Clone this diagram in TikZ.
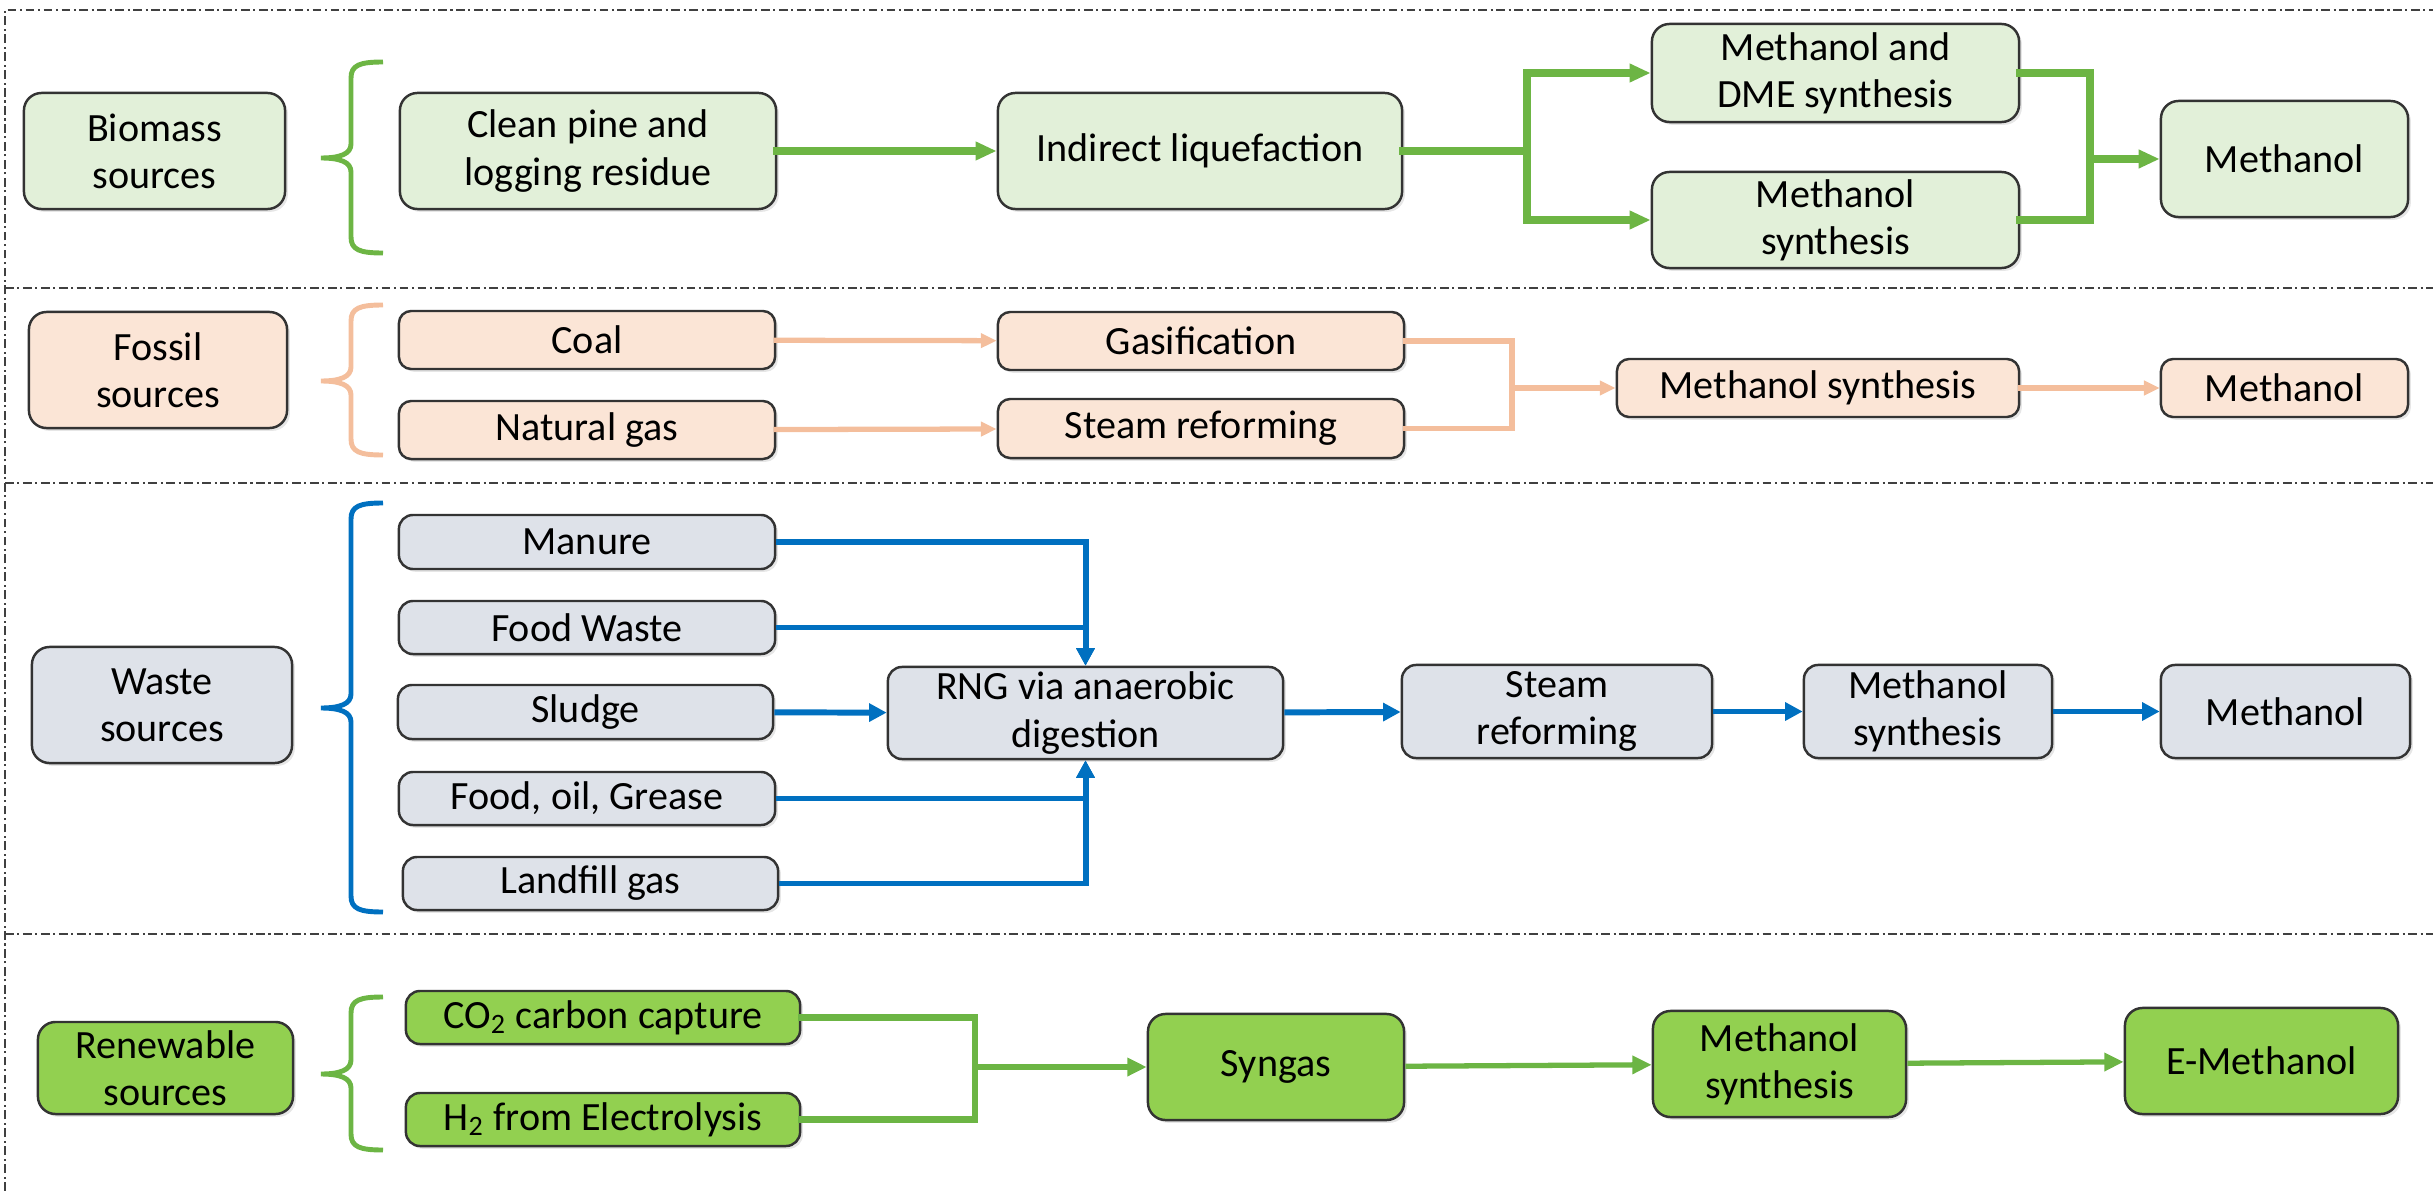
\documentclass[tikz,border=0pt]{standalone}
\usepackage{fontspec}
\setmainfont{Carlito}
\usetikzlibrary{arrows.meta,shadows}

\definecolor{biofill}{HTML}{E2F0D9}
\definecolor{bioline}{HTML}{6DB544}
\definecolor{fosfill}{HTML}{FBE5D6}
\definecolor{fosline}{HTML}{F4BE9C}
\definecolor{wasfill}{HTML}{DEE2E9}
\definecolor{wasline}{HTML}{0070C0}
\definecolor{renfill}{HTML}{92D050}
\definecolor{renline}{HTML}{6CB544}
\definecolor{framec}{HTML}{404040}

% bracket: colour, top y, tip y, bottom y
\newcommand{\srcbrace}[4]{%
  \draw[brc, draw=#1] (383,#2) .. controls (360,#2) and (351,{#2+3}) .. (351,{#2+16})
    -- (351,{#3-14}) .. controls (351,{#3-4}) and (340,#3) .. (321,#3)
    .. controls (340,#3) and (351,{#3+4}) .. (351,{#3+14})
    -- (351,{#4-16}) .. controls (351,{#4-3}) and (360,#4) .. (383,#4);}

\begin{document}
\begin{tikzpicture}[x=0.01cm, y=-0.01cm,
  box/.style={draw=black!80, line width=0.7pt, rounded corners=5pt, align=center,
    inner sep=1pt, font=\fontsize{11.4}{13.4}\selectfont,
    drop shadow={opacity=0.2, shadow xshift=0.8pt, shadow yshift=-0.8pt}},
  bio/.style={box, fill=biofill},
  fos/.style={box, fill=fosfill, rounded corners=3.5pt},
  was/.style={box, fill=wasfill, rounded corners=4pt},
  ren/.style={box, fill=renfill},
  biolin/.style={draw=bioline, line width=2.2pt, line cap=rect},
  bioarr/.style={biolin, -{Triangle[length=6pt, width=5pt]}},
  foslin/.style={draw=fosline, line width=1.5pt, line cap=rect},
  fosarr/.style={foslin, -{Triangle[length=4.5pt, width=4pt]}},
  wasarr/.style={draw=wasline, line width=1.7pt, -{Triangle[length=5pt, width=5pt]}},
  renlin/.style={draw=renline, line width=1.8pt, line cap=rect},
  renarr/.style={renlin, -{Triangle[length=5.5pt, width=5pt]}},
  renarr2/.style={draw=renline, line width=1.5pt, -{Triangle[length=5.5pt, width=5pt]}},
  brc/.style={line width=1.4pt},
  frame/.style={draw=framec, line width=0.5pt, dash pattern=on 2.5pt off 1pt on 0.6pt off 1pt}
]
\useasboundingbox (0,0) rectangle (2433,1191);

\draw[frame] (5,1191) -- (5,10) -- (2433,10);
\draw[frame] (5,288) -- (2433,288);
\draw[frame] (5,483) -- (2433,483);
\draw[frame] (5,934) -- (2433,934);

\node (bs)  [bio, minimum width=2.61cm, minimum height=1.16cm] at (154.5,151) {Biomass\\sources};
\node (cp)  [bio, minimum width=3.76cm, minimum height=1.16cm] at (588,151) {Clean pine and\\logging residue};
\node (il)  [bio, minimum width=4.04cm, minimum height=1.16cm] at (1200,151) {Indirect liquefaction};
\node (md)  [bio, minimum width=3.67cm, minimum height=0.98cm] at (1835.5,73) {Methanol and\\DME synthesis};
\node (ms1) [bio, minimum width=3.67cm, minimum height=0.96cm] at (1835.5,220) {Methanol\\synthesis};
\node (me1) [bio, minimum width=2.47cm, minimum height=1.16cm] at (2284.5,159) {Methanol};
\coordinate (j1) at (1527,151);
\coordinate (j2) at (2090,159);

\srcbrace{bioline}{62}{158}{253}
\draw[bioarr] (cp) -- (il);
\draw[biolin] (il) -- (j1);
\draw[bioarr] (j1) |- (md);
\draw[bioarr] (j1) |- (ms1);
\draw[biolin] (md) -| (j2);
\draw[biolin] (ms1) -| (j2);
\draw[bioarr] (j2) -- (me1);

\node (fs)  [fos, rounded corners=5pt, minimum width=2.58cm, minimum height=1.16cm] at (158,370) {Fossil\\sources};
\node (co)  [fos, minimum width=3.76cm, minimum height=0.58cm] at (587,340) {Coal};
\node (ng)  [fos, minimum width=3.76cm, minimum height=0.58cm] at (587,430) {Natural gas};
\node (ga)  [fos, minimum width=4.06cm, minimum height=0.58cm] at (1201,341) {Gasification};
\node (sr1) [fos, minimum width=4.06cm, minimum height=0.59cm] at (1201,428.5) {Steam reforming};
\node (ms2) [fos, minimum width=4.02cm, minimum height=0.58cm] at (1818,388) {Methanol synthesis};
\node (me2) [fos, minimum width=2.47cm, minimum height=0.58cm] at (2284.5,388) {Methanol};
\coordinate (j3) at (1512,388);

\srcbrace{fosline}{305}{381}{455}
\draw[fosarr] (co) -- (ga);
\draw[fosarr] (ng) -- (sr1);
\draw[foslin] (ga) -| (j3);
\draw[foslin] (sr1) -| (j3);
\draw[fosarr] (j3) -- (ms2);
\draw[fosarr] (ms2) -- (me2);

\node (ws)  [was, rounded corners=5pt, minimum width=2.60cm, minimum height=1.16cm] at (162,705) {Waste\\sources};
\node (mn)  [was, minimum width=3.76cm, minimum height=0.54cm] at (587,542) {Manure};
\node (fw)  [was, minimum width=3.76cm, minimum height=0.53cm] at (587,627.5) {Food Waste};
\node (sl)  [was, minimum width=3.75cm, minimum height=0.54cm] at (585.5,712) {Sludge};
\node (fo)  [was, minimum width=3.76cm, minimum height=0.53cm] at (587,798.5) {Food, oil, Grease};
\node (lf)  [was, minimum width=3.75cm, minimum height=0.53cm] at (590.5,883.5) {Landfill gas};
\node (rng) [was, minimum width=3.95cm, minimum height=0.92cm] at (1085.5,713) {RNG via anaerobic\\digestion};
\node (sr2) [was, minimum width=3.10cm, minimum height=0.93cm] at (1557,711.5) {Steam\\reforming};
\node (ms3) [was, minimum width=2.48cm, minimum height=0.93cm] at (1928,711.5) {Methanol\\synthesis};
\node (me3) [was, minimum width=2.49cm, minimum height=0.93cm] at (2285.5,711.5) {Methanol};

\srcbrace{wasline}{503}{708}{912}
\draw[wasarr] (mn) -| (rng);
\draw[wasarr] (fw) -| (rng);
\draw[wasarr] (sl) -- (rng);
\draw[wasarr] (fo) -| (rng);
\draw[wasarr] (lf) -| (rng);
\draw[wasarr] (rng) -- (sr2);
\draw[wasarr] (sr2) -- (ms3);
\draw[wasarr] (ms3) -- (me3);

\node (rs)  [ren, minimum width=2.55cm, minimum height=0.92cm] at (165.5,1068) {Renewable\\sources};
\node (co2) [ren, rounded corners=4pt, minimum width=3.94cm, minimum height=0.53cm] at (603,1017.5) {CO\textsubscript{2} carbon capture};
\node (h2)  [ren, rounded corners=4pt, minimum width=3.94cm, minimum height=0.53cm] at (603,1119.5) {H\textsubscript{2} from Electrolysis};
\node (sy)  [ren, minimum width=2.56cm, minimum height=1.06cm] at (1276,1067) {Syngas};
\node (ms4) [ren, minimum width=2.53cm, minimum height=1.06cm] at (1779.5,1064) {Methanol\\synthesis};
\node (em)  [ren, minimum width=2.73cm, minimum height=1.06cm] at (2261.5,1061) {E-Methanol};
\coordinate (j4) at (975,1067);

\srcbrace{renline}{997}{1074}{1150}
\draw[renlin] (co2) -| (j4);
\draw[renlin] (h2) -| (j4);
\draw[renarr] (j4) -- (sy);
\draw[renarr2] (sy) -- (ms4);
\draw[renarr2] (ms4) -- (em);
\end{tikzpicture}
\end{document}
